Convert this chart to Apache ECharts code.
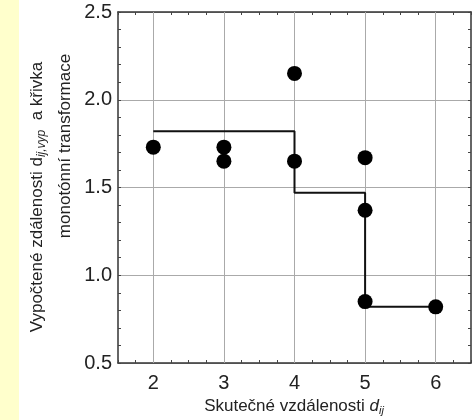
<!DOCTYPE html>
<html><head><meta charset="utf-8">
<script src="https://cdn.jsdelivr.net/npm/echarts@6/dist/echarts.min.js"></script>
<style>html,body{margin:0;padding:0;background:#fff}#c{width:475px;height:420px}</style>
</head><body><div id="c"></div>
<script>
// Data
const pointX = [2, 3, 3, 4, 4, 5, 5, 5, 6];
const pointY = [1.73, 1.73, 1.65, 2.15, 1.65, 1.67, 1.37, 0.85, 0.82];
const stepX = [2, 4, 5, 6];
const stepY = [1.82, 1.47, 0.82, 0.82];
const xTicks = [2, 3, 4, 5, 6];
const yTicks = [0.5, 1.0, 1.5, 2.0, 2.5];

const font = '"Liberation Sans", Arial, sans-serif';
const chart = echarts.init(document.getElementById('c'));
const G = {left: 118, top: 12, right: 4, bottom: 57};
const axisCommon = {
  min: 1.5, max: 6.5, type: 'value',
  axisLine: {show: true, lineStyle: {color: '#333', width: 1.5}},
};
chart.setOption({
  backgroundColor: '#fff',
  animation: false,
  grid: {left: G.left, top: G.top, right: G.right, bottom: G.bottom, containLabel: false},
  xAxis: [
    Object.assign({}, axisCommon, {
      position: 'bottom', interval: 0.25,
      axisTick: {show: true, inside: true, length: 3, lineStyle: {color: '#444'}},
      axisLabel: {show: true, margin: 10, fontSize: 20, color: '#222', fontFamily: font,
        formatter: v => (xTicks.indexOf(Math.round(v * 100) / 100) >= 0 ? String(v) : '')},
      splitLine: {show: false}
    }),
    Object.assign({}, axisCommon, {
      position: 'top', interval: 0.25,
      axisTick: {show: true, inside: true, length: 3, lineStyle: {color: '#444'}},
      axisLabel: {show: false}, splitLine: {show: false}
    })
  ],
  yAxis: [
    {type: 'value', min: 0.5, max: 2.5, interval: 0.5, position: 'left',
      axisLine: {show: true, lineStyle: {color: '#333', width: 1.5}},
      axisTick: {show: true, inside: true, length: 3, lineStyle: {color: '#444'}},
      minorTick: {show: true, splitNumber: 5, length: 3, lineStyle: {color: '#444'}},
      axisLabel: {margin: 6, fontSize: 20, color: '#222', fontFamily: font,
        formatter: v => v.toFixed(1)},
      splitLine: {show: true, lineStyle: {color: '#aaa', width: 1}}
    },
    {type: 'value', min: 0.5, max: 2.5, interval: 0.5, position: 'right',
      axisLine: {show: true, lineStyle: {color: '#333', width: 1.5}},
      axisTick: {show: true, inside: true, length: 3, lineStyle: {color: '#444'}},
      minorTick: {show: true, splitNumber: 5, length: 3, lineStyle: {color: '#444'}},
      axisLabel: {show: false}, splitLine: {show: false}
    }
  ],
  graphic: [
    {type: 'rect', shape: {x: 0, y: 0, width: 19, height: 420}, style: {fill: '#FFFFCC'}, z: -1},
    {type: 'text', x: 37, y: 197, rotation: Math.PI / 2,
      style: {text: '{a|Vypočtené zdálenosti d}{s|ij,vyp}{a|  a křivka}', align: 'center', verticalAlign: 'middle',
        rich: {a: {fontSize: 17, fontFamily: font, fill: '#222'},
               s: {fontSize: 12, fontFamily: font, fontStyle: 'italic', fill: '#222', padding: [9, 0, 0, 0]}}}},
    {type: 'text', x: 65, y: 146, rotation: Math.PI / 2,
      style: {text: 'monotónní transformace', align: 'center', verticalAlign: 'middle',
        fontSize: 17, fontFamily: font, fill: '#222'}},
    {type: 'text', x: 294, y: 406,
      style: {text: '{a|Skutečné vzdálenosti }{d|d}{s|ij}', align: 'center', verticalAlign: 'middle',
        rich: {a: {fontSize: 17, fontFamily: font, fill: '#222'},
               d: {fontSize: 17, fontFamily: font, fontStyle: 'italic', fill: '#222'},
               s: {fontSize: 11, fontFamily: font, fontStyle: 'italic', fill: '#222', padding: [9, 0, 0, 0]}}}}
  ],
  series: [
    {type: 'line', xAxisIndex: 0, yAxisIndex: 0, data: [], symbol: 'none', z: 1,
      markLine: {silent: true, z: 1, symbol: 'none', label: {show: false}, animation: false,
        lineStyle: {color: '#aaa', width: 1, type: 'solid'},
        data: xTicks.map(x => ({xAxis: x}))}},
    {type: 'line', xAxisIndex: 0, yAxisIndex: 0, step: 'end', symbol: 'none',
      lineStyle: {color: '#111', width: 2},
      data: stepX.map((x, i) => [x, stepY[i]]), z: 3},
    {type: 'scatter', xAxisIndex: 0, yAxisIndex: 0, symbolSize: 15,
      itemStyle: {color: '#000', opacity: 1},
      data: pointX.map((x, i) => [x, pointY[i]]), z: 4}
  ]
});
</script></body></html>
